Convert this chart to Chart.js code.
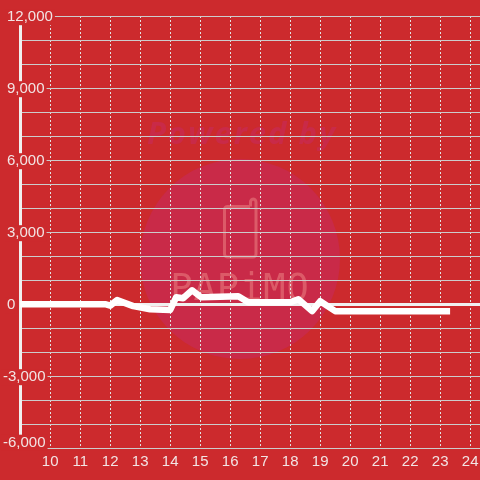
<!DOCTYPE html>
<html><head><meta charset="utf-8">
<style>html,body{margin:0;padding:0;background:#cc2a2d}#w{width:480px;height:480px}canvas{display:block}</style>
<script src="https://cdn.jsdelivr.net/npm/chart.js@4"></script></head>
<body><div id="w"><canvas id="c" width="480" height="480"></canvas></div>
<script>
const xValues=[9,11.83,12,12.23,12.77,13.33,14,14.2,14.43,14.73,15.03,16.27,16.6,18,18.27,18.73,19,19.5,23.33];
const seriesValues=[0,0,-60,170,-80,-210,-240,290,250,580,290,330,80,80,210,-290,125,-290,-290];
const xTicks=[10,11,12,13,14,15,16,17,18,19,20,21,22,23,24];
const yTicks=[-6000,-5000,-4000,-3000,-2000,-1000,0,1000,2000,3000,4000,5000,6000,7000,8000,9000,10000,11000,12000];
const yLabelled=[-6000,-3000,0,3000,6000,9000,12000];
const BG='#cc2a2d',INK='#f2e4e4',GRID='#cccccc',VGRID='#e2e2e2',AXIS='#f0f0f0';
const fmt=v=>v.toLocaleString('en-US');

const watermark={id:'watermark',beforeDraw(chart){
  const c=chart.ctx;c.save();
  c.fillStyle='#c92a48';c.beginPath();c.arc(240,259,100,0,Math.PI*2);c.fill();
  c.font='italic bold 31px "Open Sans"';c.textAlign='center';c.textBaseline='alphabetic';
  c.letterSpacing='2px';
  c.fillText('Powered by',242,144);
  c.strokeStyle='#dc5a68';c.lineWidth=3;c.lineJoin='round';
  c.beginPath();c.moveTo(250,206.5);c.lineTo(227,206.5);c.arcTo(224.5,206.5,224.5,209,3);c.lineTo(224.5,254);c.arcTo(224.5,257,228,257,3);c.lineTo(253,257);c.arcTo(256,257,256,254,3);c.lineTo(256,202);c.arcTo(256,199,253,199,3);c.arcTo(250.5,199,250.5,202,3);c.lineTo(250.5,206.5);c.stroke();
  c.fillStyle='#dc5a68';c.font='37px "DejaVu Sans Mono"';
  c.letterSpacing='1px';
  c.fillText('PAPiMO',240,300);
  c.restore();
}};
const labelNudge={id:'labelNudge',beforeDraw(chart){
  chart.scales.y.getLabelItems().forEach(it=>{
    const s=String(it.label),b=it.options.backdrop,t=it.options.translation;
    t[1]+=s==='-6,000'?-5.5:1;
    if(s.startsWith('-'))t[0]-=4;
    if(b){b.top=-8;b.height=16;}
  });
}};
new Chart(document.getElementById('c'),{
  type:'line',
  data:{datasets:[{data:xValues.map((x,i)=>({x,y:seriesValues[i]})),borderColor:'#ffffff',borderWidth:6.5,pointRadius:0,tension:0,fill:false,borderCapStyle:'butt',borderJoinStyle:'round'}]},
  plugins:[watermark,labelNudge],
  options:{
    responsive:false,animation:false,devicePixelRatio:1,
    layout:{padding:{top:16,left:0,right:0,bottom:0}},
    plugins:{legend:{display:false},title:{display:false},tooltip:{enabled:false}},
    scales:{
      x:{type:'linear',min:8.99333,max:24.32667,
        afterBuildTicks:s=>{s.ticks=xTicks.map(value=>({value}));},
        afterFit:s=>{s.height=32;s.paddingLeft=0;s.paddingRight=0;},
        grid:{color:VGRID,drawTicks:false,lineWidth:1},
        border:{display:false,dash:[2,2]},
        ticks:{color:INK,font:{family:'"Liberation Sans"',size:15},padding:5,maxRotation:0,autoSkip:false,callback:v=>String(v)}
      },
      y:{type:'linear',min:-5991.67,max:12008.33,
        afterBuildTicks:s=>{s.ticks=yTicks.map(value=>({value}));},
        afterFit:s=>{s.width=20;s.paddingTop=0;s.paddingBottom=0;},
        grid:{color:c=>c.tick&&c.tick.value===0?AXIS:GRID,lineWidth:c=>c.tick&&c.tick.value===0?3:1,drawTicks:false},
        border:{display:true,color:AXIS,width:3},
        ticks:{color:INK,font:{family:'"Liberation Sans"',size:15},autoSkip:false,mirror:true,padding:-13,
          showLabelBackdrop:c=>yLabelled.includes(c.tick.value),backdropColor:BG,backdropPadding:2,
          callback:v=>yLabelled.includes(v)?fmt(v):''}
      }
    }
  }
});
</script></body></html>
